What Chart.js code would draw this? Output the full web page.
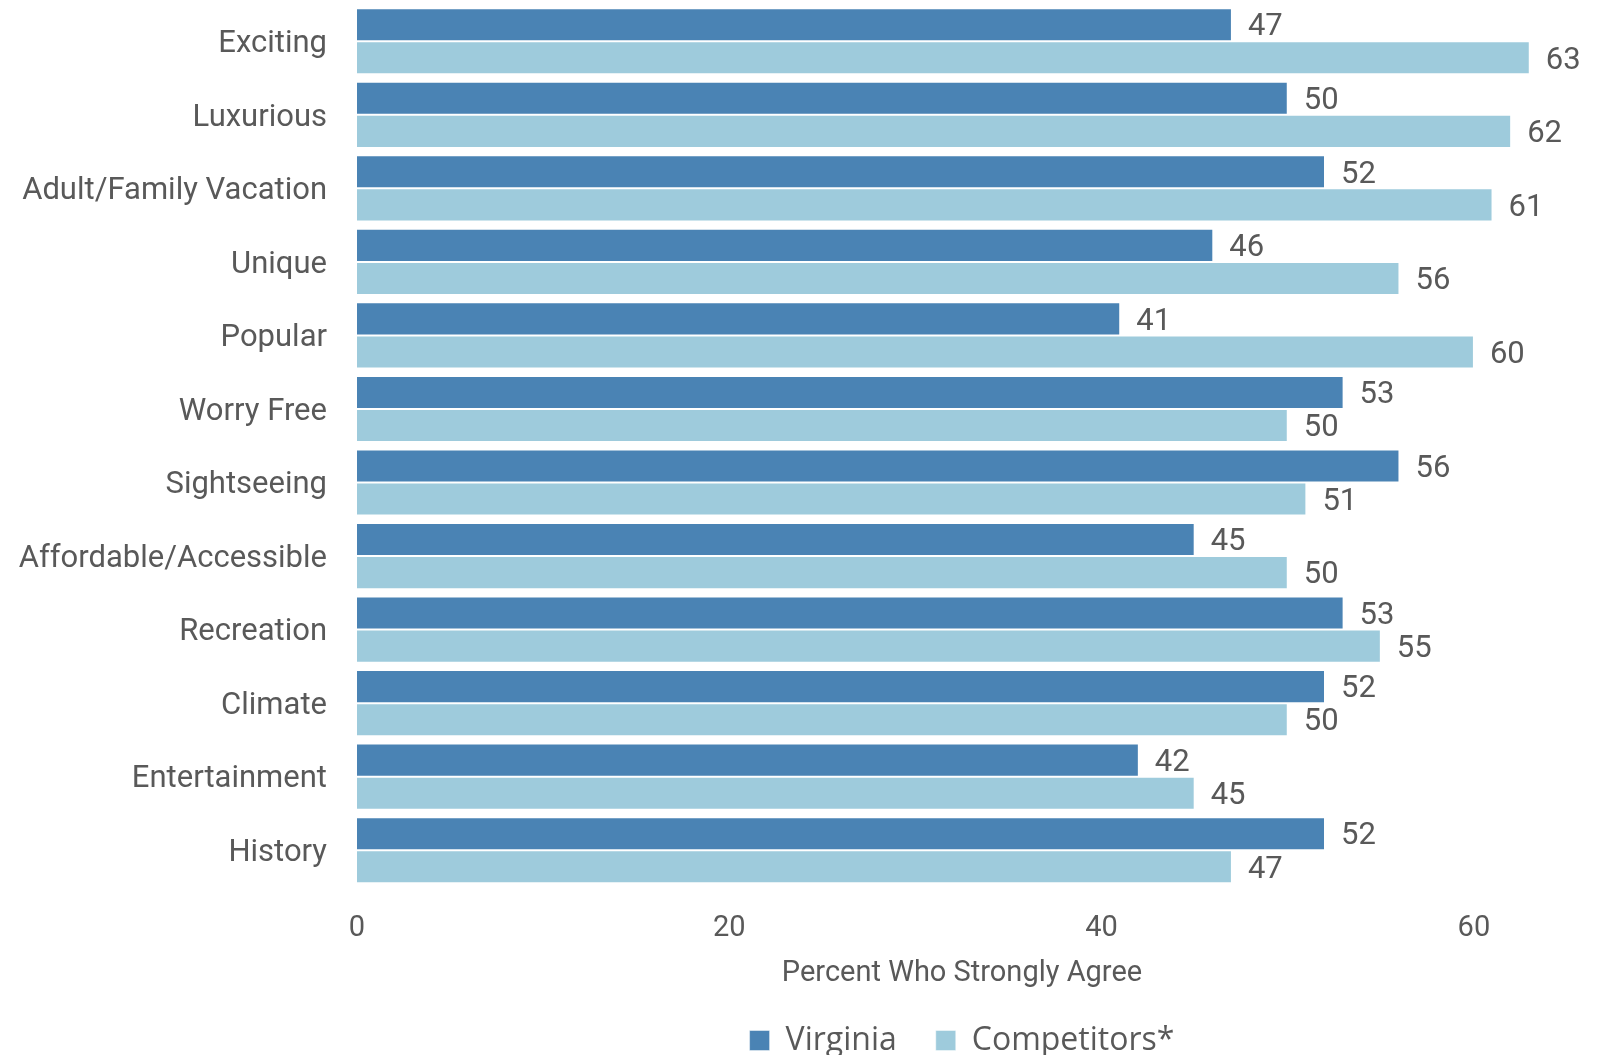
<!DOCTYPE html>
<html>
<head>
<meta charset="utf-8">
<title>Percent Who Strongly Agree</title>
<script src="https://cdn.jsdelivr.net/npm/chart.js@4"></script>
<style>
  html, body { margin: 0; padding: 0; background: #fff; }
  #wrap { width: 1616px; height: 1055px; }
</style>
</head>
<body>
<div id="wrap"><canvas id="agreeChart" width="1616" height="1055"></canvas></div>
<script>
const categories = ['Exciting', 'Luxurious', 'Adult/Family Vacation', 'Unique', 'Popular', 'Worry Free',
    'Sightseeing', 'Affordable/Accessible', 'Recreation', 'Climate', 'Entertainment', 'History'];
const virginia = [47, 50, 52, 46, 41, 53, 56, 45, 53, 52, 42, 52];
const competitors = [63, 62, 61, 56, 60, 50, 51, 50, 55, 50, 45, 47];
const tickValues = [0, 20, 40, 60];

const textColor = '#595959';

// Draws the number at the end of every bar
const valueLabels = {
    id: 'valueLabels',
    afterDatasetsDraw(chart) {
        const ctx = chart.ctx;
        ctx.save();
        ctx.font = '31px Roboto';
        ctx.fillStyle = textColor;
        ctx.textAlign = 'left';
        ctx.textBaseline = 'middle';
        chart.data.datasets.forEach((ds, i) => {
            chart.getDatasetMeta(i).data.forEach((bar, j) => {
                ctx.fillText(ds.data[j], bar.x + 16, bar.y + 3);
            });
        });
        ctx.restore();
    }
};

// label padding would otherwise shrink the plot area
function noEdgePadding(scale) {
    scale.paddingTop = 0;
    scale.paddingBottom = 0;
    scale.paddingLeft = 0;
    scale.paddingRight = 0;
}

const ctx = document.getElementById('agreeChart').getContext('2d');
new Chart(ctx, {
    type: 'bar',
    data: {
        labels: categories,
        datasets: [{
            label: 'Virginia',
            data: virginia,
            backgroundColor: '#4a83b4',
            borderColor: 'rgba(255,255,255,0.45)',
            borderWidth: 1,
            categoryPercentage: 0.9,
            barPercentage: 1.0
        }, {
            label: 'Competitors*',
            data: competitors,
            backgroundColor: '#9ecbdc',
            borderColor: 'rgba(255,255,255,0.45)',
            borderWidth: 1,
            categoryPercentage: 0.9,
            barPercentage: 1.0
        }]
    },
    options: {
        indexAxis: 'y',
        responsive: false,
        animation: false,
        layout: { padding: { top: 4.5, right: 49, bottom: 0, left: 0 } },
        scales: {
            x: {
                min: 0,
                max: 65,
                grid: { display: false, drawTicks: false },
                border: { display: false },
                afterBuildTicks(scale) {
                    scale.ticks = tickValues.map(v => ({ value: v }));
                },
                afterFit(scale) {
                    scale.height = 98.5;
                    noEdgePadding(scale);
                },
                ticks: {
                    padding: 24,
                    color: textColor,
                    font: { family: 'Roboto', size: 29 }
                },
                title: {
                    display: true,
                    text: 'Percent Who Strongly Agree',
                    color: textColor,
                    padding: 0,
                    font: { family: 'Roboto', size: 29, lineHeight: 0.8 }
                }
            },
            y: {
                grid: { display: false, drawTicks: false },
                border: { display: false },
                afterFit(scale) {
                    scale.width = 357;
                    noEdgePadding(scale);
                },
                ticks: {
                    padding: 30,
                    labelOffset: 3,
                    color: textColor,
                    font: { family: 'Roboto', size: 31 }
                }
            }
        },
        plugins: {
            legend: {
                position: 'bottom',
                fullSize: false,
                maxHeight: 69.5,
                labels: {
                    boxWidth: 20,
                    boxHeight: 20,
                    padding: 39,
                    color: textColor,
                    font: { family: 'Open Sans', size: 32 }
                }
            },
            tooltip: { enabled: false }
        }
    },
    plugins: [valueLabels]
});
</script>
</body>
</html>
